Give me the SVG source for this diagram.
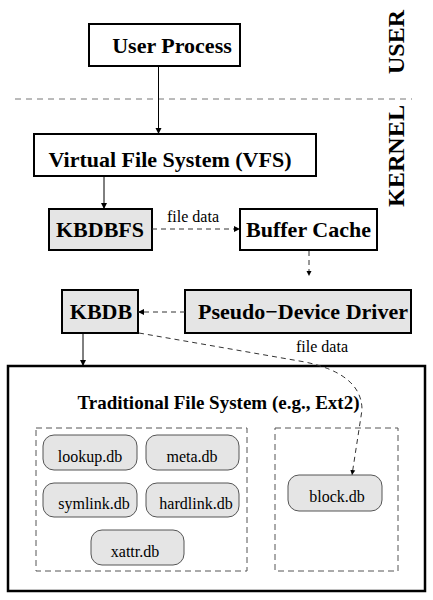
<svg xmlns="http://www.w3.org/2000/svg" width="433" height="600" viewBox="0 0 433 600">
<defs>
<marker id="ah" viewBox="0 0 10 10" refX="10" refY="5" markerWidth="6" markerHeight="8" markerUnits="userSpaceOnUse" orient="auto"><path d="M0,0 L10,5 L0,10 Z" fill="#000"/></marker>
<marker id="ahs" viewBox="0 0 10 10" refX="10" refY="5" markerWidth="5" markerHeight="7" markerUnits="userSpaceOnUse" orient="auto"><path d="M0,0 L10,5 L0,10 Z" fill="#000"/></marker>
</defs>
<style>
.box{fill:#fff;stroke:#000;stroke-width:2}
.gbox{fill:#e5e5e5;stroke:#000;stroke-width:2}
.db{fill:#e5e5e5;stroke:#555;stroke-width:1}
.dbox{fill:none;stroke:#555;stroke-width:1;stroke-dasharray:6,4}
text{font-family:'Liberation Serif','DejaVu Serif',serif}
.lbl{font-weight:bold;font-size:22px;text-anchor:middle;fill:#000}
.sm{font-size:16px;text-anchor:middle;fill:#000}
.side{font-weight:bold;font-size:24px;text-anchor:middle;fill:#000}
.solid{stroke:#000;stroke-width:1;fill:none}
.dash{stroke:#333;stroke-width:1;fill:none;stroke-dasharray:5,4}
</style>
<rect width="433" height="600" fill="#fff"/>
<g id="separator">
<line x1="15" y1="99" x2="412" y2="99" stroke="#777" stroke-width="1" stroke-dasharray="6,5"/>
<text class="side" font-family="Liberation Serif, serif" transform="translate(404,42) rotate(-90)">USER</text>
<text class="side" font-family="Liberation Serif, serif" transform="translate(404,156) rotate(-90)" textLength="102" lengthAdjust="spacingAndGlyphs">KERNEL</text>
</g>
<g id="user-process">
<rect class="box" x="89" y="24" width="151" height="42"/>
<text class="lbl" font-family="Liberation Serif, serif" x="172" y="53">User Process</text>
</g>
<g id="vfs">
<rect class="box" x="34" y="134" width="282" height="42"/>
<text class="lbl" font-family="Liberation Serif, serif" x="170" y="167">Virtual File System (VFS)</text>
</g>
<g id="kbdbfs">
<rect class="gbox" x="49" y="209" width="103" height="41"/>
<text class="lbl" font-family="Liberation Serif, serif" x="100" y="237">KBDBFS</text>
</g>
<g id="buffer-cache">
<rect class="box" x="240" y="209" width="137" height="41"/>
<text class="lbl" font-family="Liberation Serif, serif" x="308.5" y="237">Buffer Cache</text>
</g>
<g id="kbdb">
<rect class="gbox" x="62" y="290" width="76" height="43"/>
<text class="lbl" font-family="Liberation Serif, serif" x="101" y="319">KBDB</text>
</g>
<g id="pseudo-device-driver">
<rect class="gbox" x="185" y="290" width="226" height="43"/>
<text class="lbl" font-family="Liberation Serif, serif" x="303" y="319">Pseudo−Device Driver</text>
</g>
<g id="traditional-fs">
<rect x="8" y="366" width="417" height="225" fill="none" stroke="#000" stroke-width="2.5"/>
<text class="lbl" font-family="Liberation Serif, serif" x="218.5" y="409" style="font-size:19px">Traditional File System (e.g., Ext2)</text>
<rect class="dbox" x="36" y="428" width="211" height="143"/>
<rect class="dbox" x="275" y="428" width="123" height="143"/>
</g>
<g id="lookup-db"><rect class="db" x="43" y="435" width="94" height="35" rx="11"/><text class="sm" font-family="Liberation Serif, serif" x="90" y="462">lookup.db</text></g>
<g id="meta-db"><rect class="db" x="146" y="435" width="93" height="35" rx="11"/><text class="sm" font-family="Liberation Serif, serif" x="192" y="462">meta.db</text></g>
<g id="symlink-db"><rect class="db" x="43" y="483" width="94" height="34" rx="11"/><text class="sm" font-family="Liberation Serif, serif" x="94" y="509">symlink.db</text></g>
<g id="hardlink-db"><rect class="db" x="146" y="483" width="93" height="34" rx="11"/><text class="sm" font-family="Liberation Serif, serif" x="196" y="509">hardlink.db</text></g>
<g id="xattr-db"><rect class="db" x="91" y="530" width="93" height="35" rx="11"/><text class="sm" font-family="Liberation Serif, serif" x="135" y="557">xattr.db</text></g>
<g id="block-db"><rect class="db" x="288" y="475" width="94" height="36" rx="11"/><text class="sm" font-family="Liberation Serif, serif" x="337" y="502">block.db</text></g>
<g id="connectors">
<line class="solid" x1="158.5" y1="66" x2="158.5" y2="134" marker-end="url(#ah)"/>
<line class="solid" x1="104" y1="176" x2="104" y2="209" marker-end="url(#ah)"/>
<line class="dash" x1="152" y1="229" x2="240" y2="229" marker-end="url(#ah)"/>
<text class="sm" font-family="Liberation Serif, serif" x="193" y="222">file data</text>
<line class="dash" x1="309" y1="251" x2="309" y2="276" marker-end="url(#ahs)"/>
<line class="dash" x1="185" y1="312" x2="138" y2="312" marker-end="url(#ah)"/>
<line class="solid" x1="83" y1="333" x2="83" y2="366" marker-end="url(#ah)"/>
<path class="dash" d="M139,333 L305,362 Q362,374 362,410 L352,475" marker-end="url(#ahs)"/>
<text class="sm" font-family="Liberation Serif, serif" x="322" y="352">file data</text>
</g>
</svg>
